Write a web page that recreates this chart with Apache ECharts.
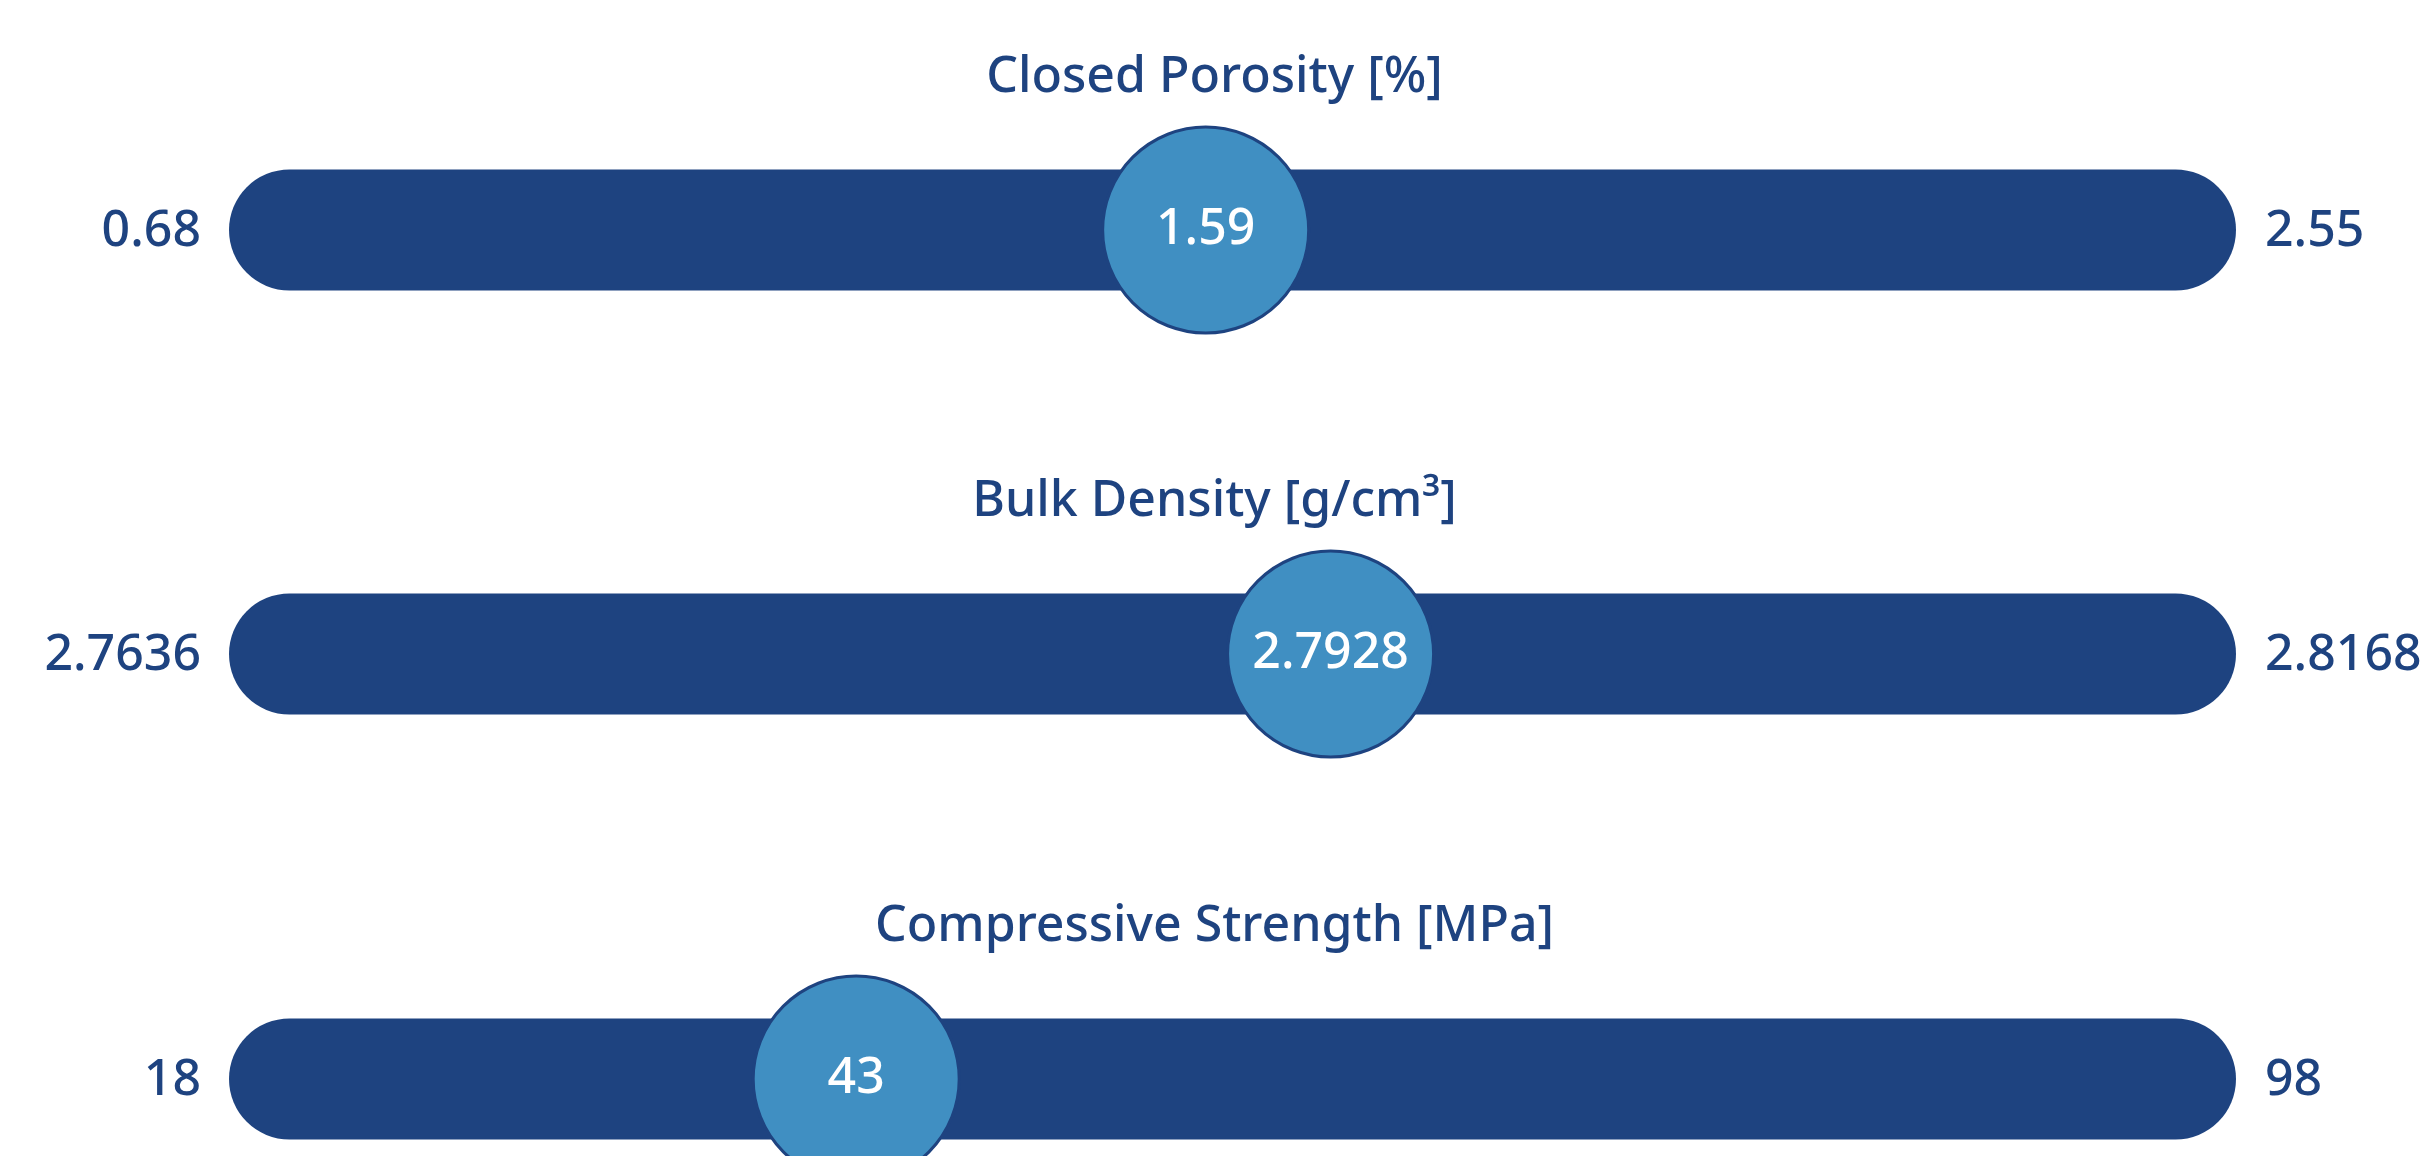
<!DOCTYPE html>
<html>
<head>
<meta charset="utf-8">
<title>Material properties</title>
<script src="https://cdn.jsdelivr.net/npm/echarts@6/dist/echarts.min.js"></script>
<style>
  html, body { margin: 0; padding: 0; background: #ffffff; }
  #chart { width: 2429px; height: 1156px; }
</style>
</head>
<body>
<div id="chart"></div>
<script>
// Property names, their observed ranges and the measured value for each
const metrics = ['Closed Porosity [%]', 'Bulk Density [g/cm³]', 'Compressive Strength [MPa]'];
const rangeMin = [0.68, 2.7636, 18];
const rangeMax = [2.55, 2.8168, 98];
const values = [1.59, 2.7928, 43];

const NAVY = '#1E4380';
const BLUE = '#408FC2';
const FONT = '"Noto Sans", "Open Sans", sans-serif';

const chart = echarts.init(document.getElementById('chart'), null, { renderer: 'canvas' });

const rowCenter = [230, 654, 1079];
const barThickness = 121;
const trackLeft = 229;
const trackRight = 193;

const grids = [], xAxes = [], yAxes = [], series = [], titles = [];

metrics.forEach((name, i) => {
  grids.push({
    left: trackLeft,
    right: trackRight,
    top: rowCenter[i] - barThickness / 2,
    height: barThickness
  });
  xAxes.push({
    gridIndex: i, type: 'value', min: rangeMin[i], max: rangeMax[i], show: false
  });
  yAxes.push({
    gridIndex: i, type: 'value', min: -1, max: 1, show: false
  });
  titles.push({
    text: name,
    left: 'center',
    top: rowCenter[i] - 182,
    textStyle: { color: NAVY, fontFamily: FONT, fontSize: 50, fontWeight: 500 }
  });

  // rounded track spanning the range, with its end values beside it
  series.push({
    type: 'custom',
    xAxisIndex: i,
    yAxisIndex: i,
    z: 1,
    data: [[rangeMin[i], rangeMax[i]]],
    renderItem: function (params, api) {
      const a = api.coord([api.value(0), 0]);
      const b = api.coord([api.value(1), 0]);
      const h = barThickness;
      return {
        type: 'group',
        children: [
          {
            type: 'rect',
            shape: { x: a[0], y: a[1] - h / 2, width: b[0] - a[0], height: h, r: h / 2 },
            style: { fill: NAVY }
          },
          {
            type: 'text',
            style: {
              x: a[0] - 28, y: a[1] + 2, text: String(rangeMin[i]),
              align: 'right', verticalAlign: 'middle',
              fill: NAVY, font: '500 50px ' + FONT
            }
          },
          {
            type: 'text',
            style: {
              x: b[0] + 29, y: b[1] + 2, text: String(rangeMax[i]),
              align: 'left', verticalAlign: 'middle',
              fill: NAVY, font: '500 50px ' + FONT
            }
          }
        ]
      };
    }
  });

  // marker at the measured value
  series.push({
    type: 'scatter',
    xAxisIndex: i,
    yAxisIndex: i,
    z: 3,
    clip: false,
    symbol: 'circle',
    symbolSize: 206,
    data: [[values[i], 0]],
    itemStyle: { color: BLUE, borderColor: NAVY, borderWidth: 3, opacity: 1 },
    emphasis: { disabled: true },
    label: {
      show: true,
      position: 'inside',
      formatter: function (p) { return String(p.value[0]); },
      color: '#ffffff',
      fontFamily: FONT,
      fontSize: 50,
      fontWeight: 500
    }
  });
});

chart.setOption({
  animation: false,
  backgroundColor: '#ffffff',
  title: titles,
  grid: grids,
  xAxis: xAxes,
  yAxis: yAxes,
  series: series
});
</script>
</body>
</html>
